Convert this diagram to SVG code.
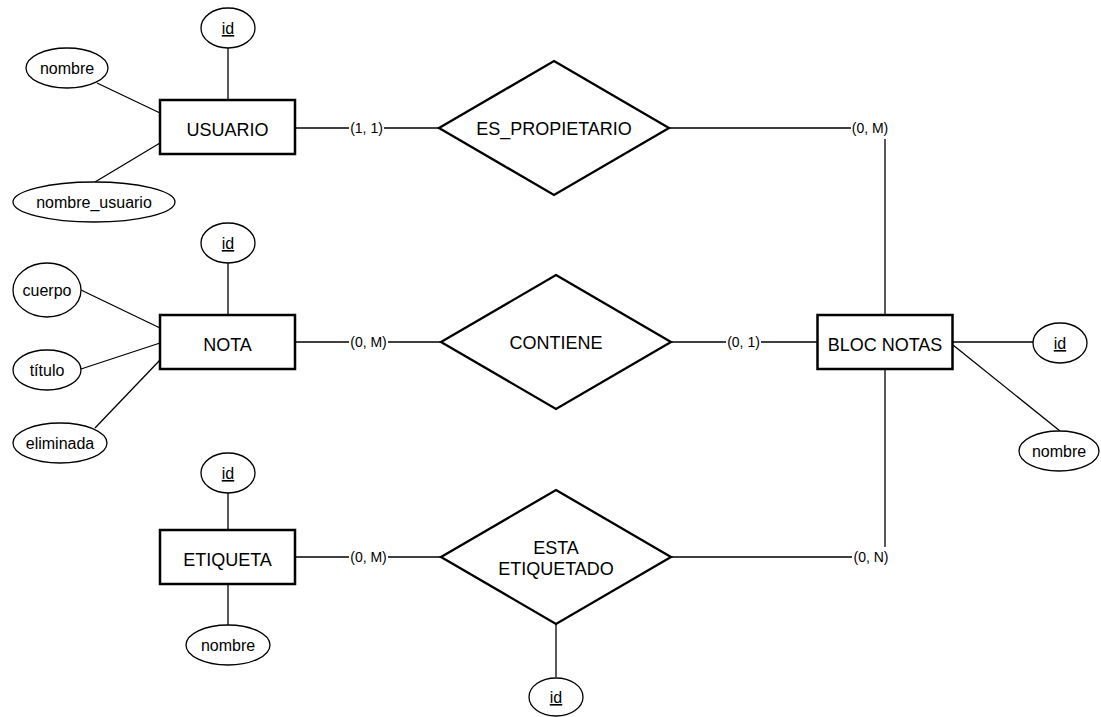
<svg xmlns="http://www.w3.org/2000/svg" width="1101" height="717" viewBox="0 0 1101 717">
  <style>
    text { font-family: "Liberation Sans", Arial, Helvetica, sans-serif; fill: #000; }
    .entity rect { fill: #fff; stroke: #000; stroke-width: 2.5; }
    .entity text { font-size: 18px; text-anchor: middle; }
    .rel polygon { fill: #fff; stroke: #000; stroke-width: 2.3; stroke-linejoin: miter; }
    .rel text { font-size: 18px; text-anchor: middle; }
    .attr ellipse { fill: #fff; stroke: #000; stroke-width: 1.3; }
    .attr text { font-size: 16px; text-anchor: middle; }
    .key { text-decoration: underline; }
    .edges line, .edges polyline { fill: none; stroke: #000; stroke-width: 1.3; }
    .card rect { fill: #fff; stroke: none; }
    .card text { font-size: 14px; text-anchor: middle; }
  </style>

  <!-- connectors -->
  <g id="connectors" class="edges">
    <!-- attribute links -->
    <line x1="228" y1="48" x2="228" y2="100"/>
    <line x1="97" y1="83" x2="160" y2="113"/>
    <line x1="95" y1="182" x2="160" y2="143"/>
    <line x1="228" y1="263" x2="228" y2="315"/>
    <line x1="81" y1="290" x2="160" y2="328"/>
    <line x1="81" y1="369" x2="160" y2="343"/>
    <line x1="95" y1="428" x2="160" y2="360"/>
    <line x1="228" y1="493" x2="228" y2="530"/>
    <line x1="228" y1="584" x2="228" y2="625"/>
    <line x1="953" y1="342" x2="1033" y2="342"/>
    <line x1="953" y1="345" x2="1060" y2="431"/>
    <line x1="556" y1="624" x2="556" y2="677"/>
    <!-- relationship links -->
    <line x1="295" y1="128" x2="440" y2="128"/>
    <polyline points="669,128 885,128 885,315"/>
    <line x1="295" y1="342" x2="441" y2="342"/>
    <line x1="671" y1="342" x2="817" y2="342"/>
    <line x1="295" y1="557" x2="441" y2="557"/>
    <polyline points="671,557 885,557 885,369"/>
  </g>

  <!-- cardinalities -->
  <g id="cardinalities" class="card">
    <rect x="349" y="119" width="35" height="19"/><text x="366.5" y="133">(1, 1)</text>
    <rect x="851" y="118" width="38" height="21"/><text x="870" y="133">(0, M)</text>
    <rect x="349" y="333" width="39" height="19"/><text x="368.5" y="347">(0, M)</text>
    <rect x="726" y="333" width="35" height="19"/><text x="743.5" y="347">(0, 1)</text>
    <rect x="349" y="548" width="39" height="19"/><text x="368.5" y="562">(0, M)</text>
    <rect x="852" y="547" width="38" height="21"/><text x="871" y="562">(0, N)</text>
  </g>

  <!-- entities -->
  <g id="usuario" class="entity">
    <rect x="160" y="100" width="135" height="54"/>
    <text x="227.5" y="136">USUARIO</text>
  </g>
  <g id="nota" class="entity">
    <rect x="160" y="315" width="135" height="54"/>
    <text x="227.5" y="351">NOTA</text>
  </g>
  <g id="etiqueta" class="entity">
    <rect x="160" y="530" width="135" height="54"/>
    <text x="227.5" y="566">ETIQUETA</text>
  </g>
  <g id="bloc-notas" class="entity">
    <rect x="817.5" y="315" width="135" height="54"/>
    <text x="885" y="351">BLOC NOTAS</text>
  </g>

  <!-- relationships -->
  <g id="es-propietario" class="rel">
    <polygon points="554,61 669,128 554,195 439,128"/>
    <text x="554" y="135">ES_PROPIETARIO</text>
  </g>
  <g id="contiene" class="rel">
    <polygon points="556,275 671,342 556,409 441,342"/>
    <text x="556" y="349">CONTIENE</text>
  </g>
  <g id="esta-etiquetado" class="rel">
    <polygon points="556,490 671,557 556,624 441,557"/>
    <text x="556" y="554">ESTA</text>
    <text x="556" y="575">ETIQUETADO</text>
  </g>

  <!-- attributes -->
  <g id="usuario-id" class="attr">
    <ellipse cx="228" cy="28" rx="27" ry="20"/>
    <text x="228" y="34" class="key">id</text>
  </g>
  <g id="usuario-nombre" class="attr">
    <ellipse cx="67" cy="68" rx="41" ry="20"/>
    <text x="67" y="74">nombre</text>
  </g>
  <g id="usuario-nombre-usuario" class="attr">
    <ellipse cx="94" cy="202" rx="81" ry="20"/>
    <text x="94" y="208">nombre_usuario</text>
  </g>
  <g id="nota-id" class="attr">
    <ellipse cx="228" cy="243" rx="27" ry="20"/>
    <text x="228" y="249" class="key">id</text>
  </g>
  <g id="nota-cuerpo" class="attr">
    <ellipse cx="47" cy="290" rx="34" ry="27"/>
    <text x="47" y="296">cuerpo</text>
  </g>
  <g id="nota-titulo" class="attr">
    <ellipse cx="47" cy="370" rx="34" ry="20"/>
    <text x="47" y="376">título</text>
  </g>
  <g id="nota-eliminada" class="attr">
    <ellipse cx="60" cy="443" rx="47" ry="20"/>
    <text x="60" y="449">eliminada</text>
  </g>
  <g id="etiqueta-id" class="attr">
    <ellipse cx="228" cy="473" rx="27" ry="20"/>
    <text x="228" y="479" class="key">id</text>
  </g>
  <g id="etiqueta-nombre" class="attr">
    <ellipse cx="228" cy="645" rx="42" ry="20"/>
    <text x="228" y="651">nombre</text>
  </g>
  <g id="bloc-id" class="attr">
    <ellipse cx="1060" cy="343" rx="27" ry="20"/>
    <text x="1060" y="349" class="key">id</text>
  </g>
  <g id="bloc-nombre" class="attr">
    <ellipse cx="1059" cy="451" rx="40" ry="20"/>
    <text x="1059" y="457">nombre</text>
  </g>
  <g id="esta-etiquetado-id" class="attr">
    <ellipse cx="556" cy="697" rx="27" ry="19"/>
    <text x="556" y="703" class="key">id</text>
  </g>
</svg>
